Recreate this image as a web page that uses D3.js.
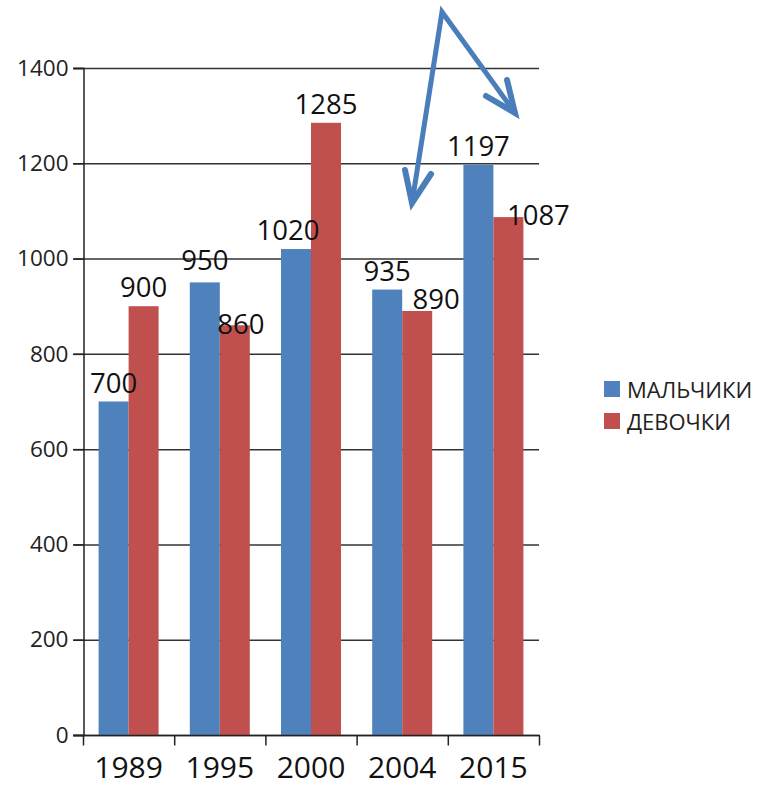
<!DOCTYPE html>
<html>
<head>
<meta charset="utf-8">
<script src="https://cdn.jsdelivr.net/npm/d3@7"></script>
<style>
  body { margin: 0; background: #fff; }
  svg { display: block; font-family: "Open Sans", "DejaVu Sans", sans-serif; }
</style>
</head>
<body>
<svg id="chart" width="760" height="786"></svg>
<script>
var years = ['1989', '1995', '2000', '2004', '2015'];
var seriesNames = ['МАЛЬЧИКИ', 'ДЕВОЧКИ'];
var boys = [700, 950, 1020, 935, 1197];
var girls = [900, 860, 1285, 890, 1087];
var yTicks = [0, 200, 400, 600, 800, 1000, 1200, 1400];
// where excel pushed a label aside to avoid an overlap
var labelNudge = [
  [[0, 0], [0, -3], [-8, 0], [0, 0], [0, 0]],
  [[0, 0], [6, 18], [0, 0], [19, 7], [30, 17]]
];

var colors = ['#4f81bd', '#c0504d'];

var svg = d3.select('#chart');
var plotL = 83, plotR = 539, plotT = 68, plotB = 735;

var x = d3.scaleBand().domain(years).range([plotL, plotR]);
var bw = x.bandwidth();
var x1 = d3.scaleBand().domain(seriesNames).range([(bw - 60) / 2, (bw + 60) / 2]);
var y = d3.scaleLinear().domain([0, 1400]).range([plotB, plotT]);

// gridlines
svg.append('g').selectAll('line')
  .data(yTicks)
  .enter().append('line')
  .attr('x1', plotL - 10)
  .attr('x2', plotR)
  .attr('y1', function(d) { return y(d) + 0.5; })
  .attr('y2', function(d) { return y(d) + 0.5; })
  .style('stroke', '#333')
  .style('stroke-width', 1.5);

// y axis
var yAxis = svg.append('g')
  .attr('transform', 'translate(' + (plotL + 0.5) + ',0)')
  .call(d3.axisLeft(y).tickValues(yTicks).tickFormat(d3.format('d')).tickSize(10).tickPadding(5));
yAxis.select('.domain').style('stroke', '#222').style('stroke-width', 1.5);
yAxis.selectAll('.tick line').style('stroke', '#222').style('stroke-width', 1.5);
yAxis.selectAll('.tick text')
  .style('font-size', '22.5px')
  .style('font-family', '"Open Sans", sans-serif')
  .style('fill', '#222');

// bars
var data = [boys, girls];
data.forEach(function(vals, si) {
  var g = svg.append('g');
  g.selectAll('rect')
    .data(vals)
    .enter().append('rect')
    .attr('x', function(d, i) { return x(years[i]) + x1(seriesNames[si]); })
    .attr('y', function(d) { return y(d); })
    .attr('width', x1.bandwidth())
    .attr('height', function(d) { return y(0) - y(d); })
    .style('fill', colors[si]);
});

// x axis
var xAxis = svg.append('g')
  .attr('transform', 'translate(0,' + (plotB + 0.5) + ')');
xAxis.append('line')
  .attr('x1', plotL - 10).attr('x2', plotR + 1)
  .style('stroke', '#222').style('stroke-width', 1.5);
xAxis.selectAll('.tk')
  .data(years.concat(['end']))
  .enter().append('line')
  .attr('class', 'tk')
  .attr('x1', function(d, i) { return plotL + i * x.step() + 0.5; })
  .attr('x2', function(d, i) { return plotL + i * x.step() + 0.5; })
  .attr('y1', 0).attr('y2', 10)
  .style('stroke', '#222').style('stroke-width', 1.5);
xAxis.selectAll('text')
  .data(years)
  .enter().append('text')
  .attr('x', function(d) { return x(d) + bw / 2; })
  .attr('y', 42)
  .attr('text-anchor', 'middle')
  .style('font-size', '30px')
  .style('fill', '#111')
  .text(function(d) { return d; });

// data labels
data.forEach(function(vals, si) {
  svg.append('g').selectAll('text')
    .data(vals)
    .enter().append('text')
    .attr('x', function(d, i) {
      return x(years[i]) + x1(seriesNames[si]) + x1.bandwidth() / 2 + labelNudge[si][i][0];
    })
    .attr('y', function(d, i) { return y(d) - 9 + labelNudge[si][i][1]; })
    .attr('text-anchor', 'middle')
    .style('font-size', '27.5px')
    .style('fill', '#111')
    .text(function(d) { return d; });
});

// legend
var leg = svg.append('g');
seriesNames.forEach(function(name, i) {
  leg.append('rect')
    .attr('x', 604).attr('y', 381 + i * 32)
    .attr('width', 16).attr('height', 16)
    .style('fill', colors[i]);
  leg.append('text')
    .attr('x', 627).attr('y', 398 + i * 32)
    .style('font-size', '22px')
    .style('fill', '#222')
    .text(name);
});

// hand drawn arrows
var arrow = svg.append('g')
  .style('fill', 'none')
  .style('stroke', '#4a7ebb')
  .style('stroke-width', 5)
  .style('stroke-linejoin', 'miter')
  .style('stroke-linecap', 'round');
arrow.append('polyline').attr('points', '412,203 442,12 515,113');
arrow.append('polyline').attr('points', '405,170 412,203 431,174').style('stroke-width', 6);
arrow.append('polyline').attr('points', '486,96 515,113 507,80').style('stroke-width', 6);
</script>
</body>
</html>
